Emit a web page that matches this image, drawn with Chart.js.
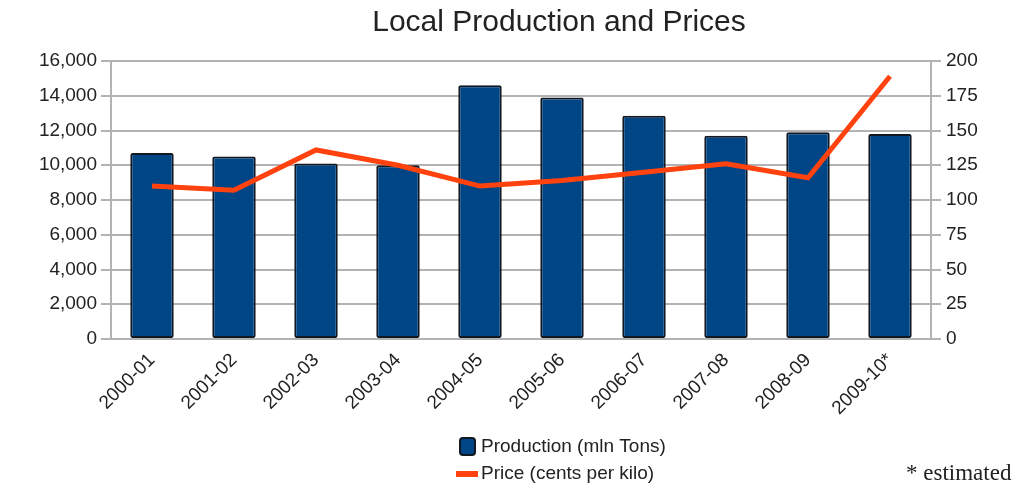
<!DOCTYPE html>
<html>
<head>
<meta charset="utf-8">
<script src="https://cdn.jsdelivr.net/npm/chart.js@4/dist/chart.umd.min.js"></script>
<style>
  body { margin: 0; background: #fff; }
  #wrap { width: 1027px; height: 489px; }
</style>
</head>
<body>
<div id="wrap"><canvas id="chart" width="1027" height="489"></canvas></div>
<script>
var seasons = ["2000-01", "2001-02", "2002-03", "2003-04", "2004-05", "2005-06", "2006-07", "2007-08", "2008-09", "2009-10*"];
var production = [10700, 10500, 10100, 10000, 14600, 13900, 12850, 11700, 11900, 11800];
var price = [110, 107, 136, 125, 110, 114, 120, 126, 116, 189];
var productionTicks = [0, 2000, 4000, 6000, 8000, 10000, 12000, 14000, 16000];
var priceTicks = [0, 25, 50, 75, 100, 125, 150, 175, 200];

var FONT = "'Liberation Sans', Arial, sans-serif";
var gridColor = "#b3b3b3";
var titleText = "Local Production and Prices";

// title (off-centre in the original) and the stacked legend below the plot
var extras = {
  id: 'extras',
  afterDraw: function (chart) {
    var ctx = chart.ctx;
    var bar = chart.data.datasets[0], line = chart.data.datasets[1];
    ctx.save();
    ctx.textBaseline = "middle";

    ctx.font = "30px " + FONT;
    ctx.fillStyle = "#222";
    ctx.textAlign = "center";
    ctx.fillText(titleText, 559, 23);

    ctx.font = "19px " + FONT;
    ctx.textAlign = "left";

    // bar swatch
    ctx.beginPath();
    ctx.roundRect(460, 438, 15, 17, 3);
    ctx.fillStyle = bar.backgroundColor;
    ctx.fill();
    ctx.lineWidth = 2;
    ctx.strokeStyle = bar.borderColor;
    ctx.stroke();
    ctx.fillStyle = "#222";
    ctx.fillText(bar.label, 481, 447);

    // line swatch
    ctx.fillStyle = line.borderColor;
    ctx.fillRect(456, 471, 22, 6);
    ctx.fillStyle = "#222";
    ctx.fillText(line.label, 481, 474);

    ctx.font = "23px 'Liberation Serif', 'Times New Roman', serif";
    ctx.fillText("* estimated", 906, 474);
    ctx.restore();
  }
};

new Chart(document.getElementById("chart"), {
  type: 'bar',
  data: {
    labels: seasons,
    datasets: [{
      type: 'bar',
      label: "Production (mln Tons)",
      data: production,
      yAxisID: 'y',
      backgroundColor: "#004586",
      borderColor: "#111820",
      borderWidth: 2,
      borderRadius: 2,
      borderSkipped: false,
      barPercentage: 0.53,
      categoryPercentage: 1,
      order: 1
    }, {
      type: 'line',
      label: "Price (cents per kilo)",
      data: price,
      yAxisID: 'y1',
      borderColor: "#ff420e",
      borderWidth: 5,
      pointRadius: 0,
      tension: 0,
      order: 0
    }]
  },
  options: {
    responsive: false,
    animation: false,
    layout: { padding: { left: 0, right: 0, top: 61, bottom: 0 } },
    plugins: {
      legend: { display: false },
      tooltip: { enabled: false },
      title: { display: false }
    },
    scales: {
      x: {
        grid: { display: false },
        border: { display: false },
        ticks: {
          color: "#222",
          font: { family: FONT, size: 19 },
          maxRotation: 45,
          minRotation: 45,
          padding: 2
        },
        afterFit: function (scale) { scale.height = 150; }
      },
      y: {
        position: 'left',
        min: 0,
        max: 16000,
        afterBuildTicks: function (scale) {
          scale.ticks = productionTicks.map(function (v) { return { value: v }; });
        },
        grid: { color: gridColor, lineWidth: 2, tickLength: 10 },
        border: { display: true, color: gridColor, width: 2 },
        ticks: {
          color: "#222",
          font: { family: FONT, size: 19 },
          padding: 4,
          callback: function (v) { return v.toLocaleString('en-US'); }
        },
        afterFit: function (scale) { scale.width = 111; }
      },
      y1: {
        position: 'right',
        min: 0,
        max: 200,
        afterBuildTicks: function (scale) {
          scale.ticks = priceTicks.map(function (v) { return { value: v }; });
        },
        grid: { drawOnChartArea: false, color: gridColor, lineWidth: 2, tickLength: 10 },
        border: { display: true, color: gridColor, width: 2 },
        ticks: {
          color: "#222",
          font: { family: FONT, size: 19 },
          padding: 5
        },
        afterFit: function (scale) { scale.width = 96; }
      }
    }
  },
  plugins: [extras]
});
</script>
</body>
</html>
